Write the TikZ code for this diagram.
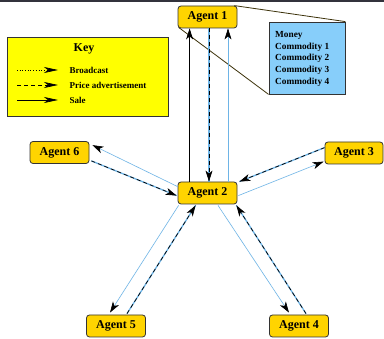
\documentclass[tikz,border=0pt]{standalone}
\usepackage{fontspec}
\setmainfont{Liberation Serif}
\usetikzlibrary{arrows.meta,calc}
\definecolor{agentfill}{RGB}{255,212,0}
\definecolor{infofill}{RGB}{135,206,250}
\definecolor{keyfill}{RGB}{255,255,0}
\definecolor{lblue}{RGB}{110,180,230}
\definecolor{topbar}{RGB}{50,50,60}
\definecolor{zoomc}{RGB}{60,50,10}
\tikzset{
  agent/.style={draw=black!80, fill=agentfill, rounded corners=3pt, line width=0.8pt,
    minimum width=59pt, minimum height=22pt, inner sep=0pt, font=\fontsize{12}{14}\selectfont\bfseries},
  tip/.style={-{Stealth[length=11pt,width=7pt,inset=3pt,color=black]}},
  bcast/.style={tip, draw=lblue, line width=0.6pt},
  price/.style={tip, draw=black, dashed, dash pattern=on 4pt off 3pt, line width=0.7pt,
    preaction={draw=lblue, solid, line width=1.3pt, -}},
  sale/.style={tip, draw=black, line width=0.8pt},
  keytip/.style={-{Stealth[length=14pt,width=6pt,inset=4pt,color=black]}, line width=0.7pt},
  zoomline/.style={draw=zoomc, line width=0.8pt}
}
\begin{document}
\begin{tikzpicture}[x=1pt,y=-1pt]
\useasboundingbox (0,0) rectangle (384,339);
\fill[white] (0,0) rectangle (384,339);
\draw[topbar, line width=1.6pt] (0,0.8) -- (384,0.8);

% key
\node[draw=black!80, fill=keyfill, line width=0.8pt, minimum width=161pt, minimum height=79pt,
  inner sep=0pt] (key) at (87.5,76.5) {};
\node[font=\fontsize{12}{14}\selectfont\bfseries] (keyt) at (84,49) {Key};
\coordinate (k1a) at (17,70); \coordinate (k1b) at (58,70);
\coordinate (k2a) at (17,85); \coordinate (k2b) at (58,85);
\coordinate (k3a) at (17,100); \coordinate (k3b) at (58,100);
\draw[keytip, dotted] (k1a) -- (k1b);
\draw[keytip, dashed, dash pattern=on 4pt off 3pt] (k2a) -- (k2b);
\draw[keytip] (k3a) -- (k3b);
\node[anchor=west, font=\fontsize{9}{11}\selectfont\bfseries] (l1) at (66,70) {Broadcast};
\node[anchor=west, font=\fontsize{9}{11}\selectfont\bfseries] (l2) at (66,85) {Price advertisement};
\node[anchor=west, font=\fontsize{9}{11}\selectfont\bfseries] (l3) at (66,100) {Sale};

% info box
\node[draw=black!80, fill=infofill, line width=0.8pt, minimum width=76pt, minimum height=72pt,
  inner sep=0pt] (info) at (307,58) {};
\node[anchor=north west, align=left, inner sep=0pt, font=\fontsize{9.3}{11.8}\selectfont\bfseries]
  (infot) at (275,31) {Money\\Commodity 1\\Commodity 2\\Commodity 3\\Commodity 4};

% agents
\node[agent] (A1) at (207.5,17) {Agent 1};
\node[agent] (A2) at (207.5,193) {Agent 2};
\node[agent] (A6) at (59.5,152.5) {Agent 6};
\node[agent, minimum width=58pt] (A3) at (354,153) {Agent 3};
\node[agent] (A5) at (116,326) {Agent 5};
\node[agent] (A4) at (299,326) {Agent 4};

% zoom lines
\draw[zoomline] ($(A1.north east)+(-3,0)$) -- (info.north east);
\draw[zoomline] ($(A1.south west)+(1,-1)$) -- (info.south west);

% Agent 1 <-> Agent 2
\draw[sale] ($(A2.north west)+(12,0)$) -- ($(A1.south west)+(12,0)$);
\draw[price] ($(A1.south)+(1.5,0)$) -- ($(A2.north)+(1.5,0)$);
\draw[bcast] ($(A2.north)+(20.5,0)$) -- ($(A1.south)+(20.5,0)$);

% Agent 6
\draw[bcast] ($(A2.north west)+(0,5)$) -- ($(A6.north east)+(3,4)$);
\draw[price] ($(A6.south east)+(2,-3)$) -- ($(A2.north west)+(-1,14)$);

% Agent 3
\draw[price] ($(A3.north west)+(0,6)$) -- ($(A2.north east)+(2,0)$);
\draw[bcast] ($(A2.north east)+(1,14)$) -- ($(A3.north west)+(-1,20)$);

% Agent 5
\draw[bcast] ($(A2.south west)+(1,1)$) -- ($(A5.north)+(-6,-2)$);
\draw[price] ($(A5.north)+(11,-1)$) -- ($(A2.south west)+(18,1)$);

% Agent 4
\draw[bcast] ($(A2.south)+(10.5,1)$) -- ($(A4.north)+(-10,-2)$);
\draw[price] ($(A4.north)+(7,-1)$) -- ($(A2.south east)+(-1,1)$);
\end{tikzpicture}
\end{document}
